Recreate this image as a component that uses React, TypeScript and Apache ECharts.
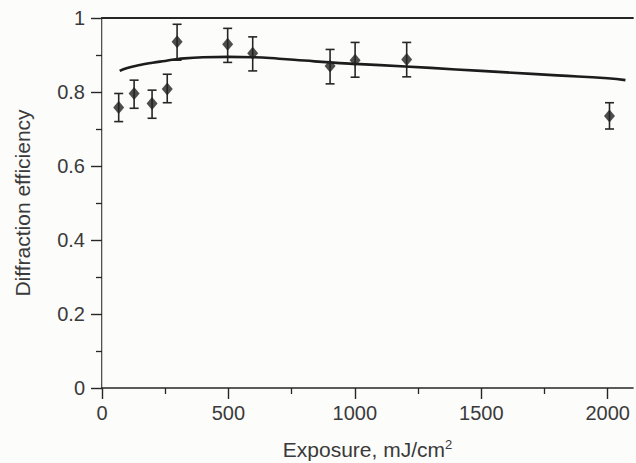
import React, { useEffect, useRef } from "react";
import * as echarts from "echarts";

const exposure = [66, 127, 198, 258, 297, 497, 596, 902, 1001, 1205, 2007];
const efficiency = [0.758, 0.796, 0.769, 0.808, 0.936, 0.929, 0.905, 0.870, 0.886, 0.888, 0.735];
const errorLow = [0.720, 0.756, 0.729, 0.771, 0.886, 0.880, 0.857, 0.822, 0.840, 0.841, 0.700];
const errorHigh = [0.796, 0.832, 0.805, 0.848, 0.983, 0.972, 0.949, 0.915, 0.934, 0.934, 0.771];

const fitX = [70, 100, 150, 200, 250, 300, 400, 500, 600, 700, 800, 900, 1000, 1200, 1400, 1600, 1800, 2000, 2070];
const fitY = [0.857, 0.865, 0.873, 0.879, 0.884, 0.889, 0.894, 0.895, 0.894, 0.890, 0.885, 0.880, 0.876, 0.869, 0.861, 0.853, 0.845, 0.837, 0.832];

const xMajorTicks = [0, 500, 1000, 1500, 2000];
const xMinorTicks = [250, 750, 1250, 1750];

const FONT = "'Liberation Sans', Arial, Helvetica, sans-serif";
const INK = "#262626";
const TEXT = "#3a3a3a";

export default function App() {
  const ref = useRef<HTMLDivElement>(null);
  useEffect(() => {
    if (!ref.current) return;
    const chart = echarts.init(ref.current, null, { renderer: "svg" });
    const errData = exposure.map((x, i) => [x, errorLow[i], errorHigh[i]]);
    const option: any = {
      animation: false,
      backgroundColor: "#fcfcfb",
      textStyle: { fontFamily: FONT },
      grid: { left: 102, right: 3, top: 18, bottom: 75, containLabel: false, outerBoundsMode: "none" },
      xAxis: [
        {
          type: "value",
          min: 0,
          max: 2100,
          position: "bottom",
          name: "Exposure, mJ/cm{sup|2}",
          nameLocation: "middle",
          nameGap: 50,
          nameTextStyle: {
            fontSize: 21,
            color: TEXT,
            fontFamily: FONT,
            rich: { sup: { fontSize: 13, verticalAlign: "top", color: TEXT, fontFamily: FONT, padding: [0, 0, 9, 0] } },
          },
          axisLine: { show: true, lineStyle: { color: INK, width: 1.6 } },
          axisTick: { show: true, inside: false, length: 11, customValues: xMajorTicks, lineStyle: { color: INK, width: 1.4 } },
          axisLabel: {
            show: true,
            customValues: xMajorTicks,
            fontSize: 20,
            color: TEXT,
            margin: 15,
            fontFamily: FONT,
            formatter: (v: number) => String(v),
          },
          splitLine: { show: false },
        },
        {
          type: "value",
          min: 0,
          max: 2100,
          position: "bottom",
          axisLine: { show: false },
          axisTick: { show: true, inside: false, length: 6, customValues: xMinorTicks, lineStyle: { color: INK, width: 1.3 } },
          axisLabel: { show: false },
          splitLine: { show: false },
        },
        {
          type: "value",
          min: 0,
          max: 2100,
          position: "top",
          axisLine: { show: true, lineStyle: { color: INK, width: 1.8 } },
          axisTick: { show: false },
          axisLabel: { show: false },
          splitLine: { show: false },
        },
      ],
      yAxis: [
        {
          type: "value",
          min: 0,
          max: 1,
          interval: 0.2,
          position: "left",
          name: "Diffraction efficiency",
          nameLocation: "middle",
          nameGap: 69,
          nameRotate: 90,
          nameTextStyle: { fontSize: 21, color: TEXT, fontFamily: FONT },
          axisLine: { show: true, lineStyle: { color: INK, width: 1.6 } },
          axisTick: { show: true, inside: false, length: 11, lineStyle: { color: INK, width: 1.4 } },
          minorTick: { show: true, splitNumber: 2, length: 6, lineStyle: { color: INK, width: 1.3 } },
          axisLabel: {
            fontSize: 20,
            color: TEXT,
            margin: 17,
            fontFamily: FONT,
            formatter: (v: number) => String(Math.round(v * 10) / 10),
          },
          splitLine: { show: false },
          minorSplitLine: { show: false },
        },
        {
          type: "value",
          min: 0,
          max: 1,
          position: "right",
          axisLine: { show: true, lineStyle: { color: "#c8c8c8", width: 1 } },
          axisTick: { show: false },
          axisLabel: { show: false },
          splitLine: { show: false },
        },
      ],
      series: [
        {
          type: "custom",
          name: "error",
          xAxisIndex: 0,
          yAxisIndex: 0,
          data: errData,
          encode: { x: 0, y: [1, 2] },
          z: 3,
          renderItem: (params: any, api: any) => {
            const x = api.value(0);
            const lo = api.coord([x, api.value(1)]);
            const hi = api.coord([x, api.value(2)]);
            const w = 4.5;
            const style = { stroke: INK, lineWidth: 1.6 };
            return {
              type: "group",
              children: [
                { type: "line", shape: { x1: lo[0], y1: lo[1], x2: hi[0], y2: hi[1] }, style },
                { type: "line", shape: { x1: lo[0] - w, y1: lo[1], x2: lo[0] + w, y2: lo[1] }, style },
                { type: "line", shape: { x1: hi[0] - w, y1: hi[1], x2: hi[0] + w, y2: hi[1] }, style },
              ],
            };
          },
        },
        {
          type: "line",
          name: "fit",
          xAxisIndex: 0,
          yAxisIndex: 0,
          data: fitX.map((x, i) => [x, fitY[i]]),
          smooth: true,
          showSymbol: false,
          symbol: "none",
          lineStyle: { color: "#1c1c1c", width: 2.6 },
          z: 4,
        },
        {
          type: "scatter",
          name: "data",
          xAxisIndex: 0,
          yAxisIndex: 0,
          data: exposure.map((x, i) => [x, efficiency[i]]),
          symbol: "diamond",
          symbolSize: [11, 13],
          itemStyle: { color: "#222222" },
          z: 5,
        },
      ],
    };
    chart.setOption(option);
    return () => chart.dispose();
  }, []);
  return (
    <div
      ref={ref}
      style={{ position: "fixed", left: 0, top: 0, width: 636, height: 463, background: "#fcfcfb" }}
    />
  );
}
